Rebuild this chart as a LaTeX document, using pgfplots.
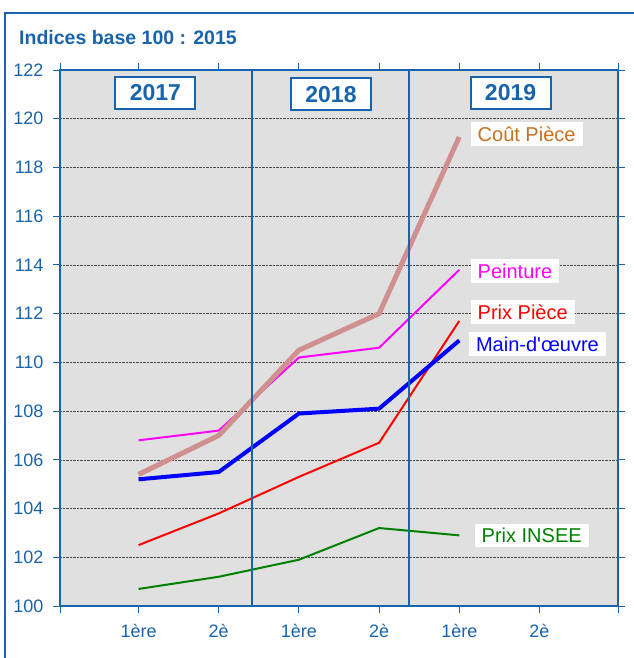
\documentclass[border=0pt]{standalone}
\usepackage{pgfplots}
\pgfplotsset{compat=1.18}
\usepackage{fontspec}
\setmainfont{Liberation Sans}
\definecolor{frameblue}{RGB}{24,100,172}
\definecolor{bggray}{RGB}{224,224,224}
\definecolor{coutline}{RGB}{208,144,144}
\definecolor{couttext}{RGB}{200,112,32}
\definecolor{insee}{RGB}{0,128,0}
\definecolor{peint}{RGB}{255,0,255}
\definecolor{pblue}{RGB}{0,0,255}
\newcommand{\squote}{{\XeTeXglyph\the\XeTeXcharglyph"0027\relax}}
\begin{document}
\begin{tikzpicture}[x=1pt,y=1pt]
\useasboundingbox (0,0) rectangle (633,-658);
\draw[frameblue, line width=2.5pt] (5,-660) -- (5,-13) -- (640,-13);
\node[anchor=west, text=frameblue, font=\fontsize{19.5}{22}\selectfont\bfseries, inner sep=0pt] at (19,-38) {Indices base 100 : 2015};
\begin{axis}[
  at={(60pt,-606pt)}, anchor=south west,
  scale only axis, width=558pt, height=536pt,
  xmin=-0.98, xmax=5.98, ymin=100, ymax=122,
  ytick={100,102,...,122},
  xtick={-0.98,0,1,2,3,4,5,5.98},
  xticklabels={,1ère,2è,1ère,2è,1ère,2è,},
  tick align=outside,
  major tick length=7pt,
  tick style={frameblue, line width=1pt},
  axis line style={frameblue, line width=2.5pt},
  axis background/.style={fill=bggray},
  ymajorgrids,
  grid style={black!70, densely dotted, line width=0.6pt},
  /pgf/number format/assume math mode=true,
  ticklabel style={font=\fontsize{18}{20}\selectfont, text=frameblue},
  yticklabel style={xshift=-6pt},
  xticklabel style={yshift=-8pt},
  every axis plot/.append style={no marks, line join=round},
  clip=false,
]
\addplot[insee, line width=2pt] coordinates {(0,100.7) (1,101.2) (2,101.9) (3,103.2) (4,102.9)};
\addplot[red, line width=2pt] coordinates {(0,102.5) (1,103.8) (2,105.3) (3,106.7) (4,111.7)};
\addplot[peint, line width=2pt] coordinates {(0,106.8) (1,107.2) (2,110.2) (3,110.6) (4,113.8)};
\addplot[coutline, line width=5pt] coordinates {(0,105.4) (1,107.0) (2,110.5) (3,112.0) (4,119.25)};
\addplot[pblue, line width=4pt] coordinates {(0,105.2) (1,105.5) (2,107.9) (3,108.1) (4,110.9)};

\draw[frameblue, line width=1.8pt] (axis cs:1.41,100) -- (axis cs:1.41,122);
\draw[frameblue, line width=1.8pt] (axis cs:3.37,100) -- (axis cs:3.37,122);

\begin{scope}[every node/.style={fill=white, anchor=west, inner xsep=7pt, inner ysep=4.5pt, font=\fontsize{20}{22}\selectfont}]
\node[text=couttext] at (axis cs:4.14,119.37) {Coût Pièce};
\node[text=peint] at (axis cs:4.14,113.75) {Peinture};
\node[text=red] at (axis cs:4.14,112.07) {Prix Pièce};
\node[text=pblue] at (axis cs:4.12,110.75) {Main-d\squote œuvre};
\node[text=insee] at (axis cs:4.19,102.9) {Prix INSEE};
\end{scope}

\begin{scope}[every node/.style={fill=white, draw=frameblue, line width=2pt, text=frameblue, minimum width=80pt, minimum height=32pt, inner sep=0pt, font=\fontsize{23}{25}\selectfont\bfseries}]
\node at (axis cs:0.21,121.06) {2017};
\node at (axis cs:2.4,121.0) {2018};
\node at (axis cs:4.64,121.06) {2019};
\end{scope}
\end{axis}
\end{tikzpicture}
\end{document}
